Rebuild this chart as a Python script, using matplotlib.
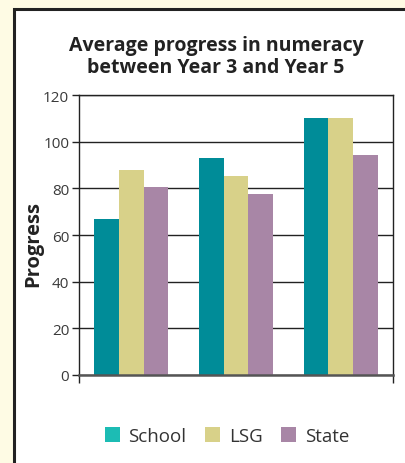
import matplotlib
matplotlib.use("Agg")
import matplotlib.pyplot as plt
from matplotlib.patches import Rectangle, Patch
import numpy as np

plt.rcParams['font.family'] = ['Open Sans', 'DejaVu Sans']

groups = ["Group 1", "Group 2", "Group 3"]
series = ["School", "LSG", "State"]
school = [67, 93, 110]
lsg = [88, 85.5, 110]
state = [80.5, 77.5, 94.5]
yticks = [0, 20, 40, 60, 80, 100, 120]

bar_colors = ["#008c98", "#d8d189", "#a886a6"]
legend_colors = ["#1cbcb4", "#d8d189", "#a886a6"]

fig = plt.figure(figsize=(4.06, 4.64), dpi=100)
fig.patch.set_facecolor("#fefbe4")

# white panel with dark frame on the left/top
panel = Rectangle((14 / 406, -0.05), 1.1, 1 - 10 / 464 + 0.05, transform=fig.transFigure,
                  facecolor="white", edgecolor="#222222", linewidth=2.2, zorder=-5)
fig.patches.append(panel)

ax = fig.add_axes([79 / 406, 88 / 464, 314 / 406, 280 / 464])
ax.set_facecolor("none")

x = np.arange(len(groups))
w = 0.235
for i, vals in enumerate([school, lsg, state]):
    ax.bar(x + (i - 1) * w, vals, width=w, color=bar_colors[i], zorder=3)

ax.set_xlim(-0.5, 2.5)
ax.set_ylim(0, 120)
ax.set_yticks(yticks)
ax.set_yticklabels([str(t) for t in yticks], fontsize=11, color="#3a3a3a")
ax.yaxis.grid(True, color="#222222", linewidth=1.0, zorder=1)
ax.set_axisbelow(True)
ax.tick_params(axis="y", length=5, width=1, color="#222222", pad=2)
ax.set_xticks([-0.5, 2.5])
ax.set_xticklabels([])
ax.tick_params(axis="x", length=6, width=1, color="#222222")

for s in ["left", "right", "top"]:
    ax.spines[s].set_color("#222222")
    ax.spines[s].set_linewidth(1.0)
ax.spines["bottom"].set_color("#555555")
ax.spines["bottom"].set_linewidth(1.8)
ax.spines["bottom"].set_zorder(4)

ax.set_ylabel("Progress", fontsize=14.5, fontweight="bold", color="#222222")
ax.yaxis.set_label_coords(-0.115, 0.47)

fig.text(216 / 406, 1 - 57 / 464, "Average progress in numeracy\nbetween Year 3 and Year 5",
         ha="center", va="center", fontsize=14, fontweight="bold", color="#222222",
         linespacing=1.15)

handles = [Patch(facecolor=c, edgecolor="none") for c in legend_colors]
fig.legend(handles, series, loc="center", bbox_to_anchor=(227 / 406, 1 - 437 / 464),
           ncol=3, frameon=False, fontsize=13.5, handlelength=0.8, handleheight=0.8,
           handletextpad=0.45, columnspacing=1.0, labelcolor="#333333")

fig.savefig("out.png", dpi=100, facecolor=fig.get_facecolor())
